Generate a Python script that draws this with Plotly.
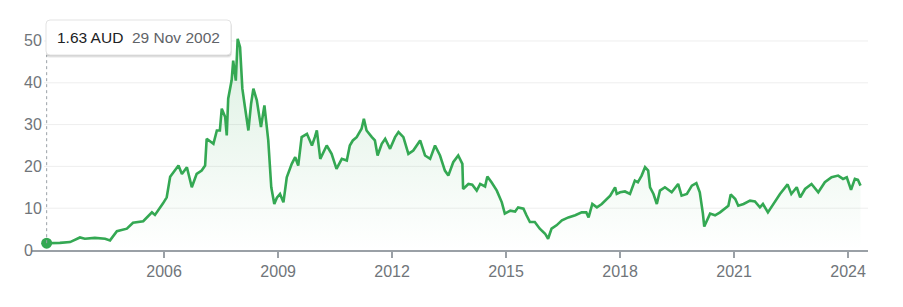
import plotly.graph_objects as go
from datetime import date

# ---- data ----
dates = [
    "2002-11-29", "2003-01-29", "2003-04-05", "2003-07-12", "2003-08-25", "2003-10-15", "2003-12-01",
    "2004-03-06", "2004-06-13", "2004-07-30", "2004-10-04", "2005-01-08", "2005-03-08",
    "2005-06-14", "2005-09-06", "2005-10-05", "2005-12-20", "2006-01-26", "2006-02-28",
    "2006-05-19", "2006-06-21", "2006-08-08", "2006-09-24", "2006-11-10", "2006-12-28",
    "2007-01-30", "2007-02-14", "2007-04-20", "2007-05-23", "2007-06-21", "2007-07-09",
    "2007-08-11", "2007-08-26", "2007-09-09", "2007-10-12", "2007-10-27", "2007-11-21",
    "2007-12-09", "2008-01-01", "2008-01-23", "2008-02-17", "2008-03-21", "2008-04-16",
    "2008-05-08", "2008-06-10", "2008-07-20", "2008-08-22", "2008-09-13", "2008-09-28",
    "2008-10-27", "2008-11-25", "2008-12-20", "2009-01-19", "2009-02-21", "2009-03-25",
    "2009-05-12", "2009-06-14", "2009-07-13", "2009-08-15", "2009-10-05", "2009-11-22",
    "2009-12-20", "2010-01-08", "2010-02-10", "2010-04-13", "2010-05-30", "2010-07-16",
    "2010-09-05", "2010-10-23", "2010-11-21", "2010-12-20", "2011-01-26", "2011-03-14", "2011-04-05",
    "2011-05-01", "2011-06-21", "2011-07-20", "2011-08-15", "2011-09-24", "2011-10-27",
    "2011-12-13", "2012-01-30", "2012-03-03", "2012-04-19", "2012-06-06", "2012-07-23",
    "2012-09-27", "2012-11-13", "2013-01-01", "2013-02-17", "2013-04-06", "2013-05-23",
    "2013-06-25", "2013-08-11", "2013-09-28", "2013-11-07", "2013-11-14", "2014-01-04",
    "2014-02-10", "2014-03-25", "2014-04-27", "2014-06-13", "2014-07-05", "2014-08-14",
    "2014-10-04", "2014-11-21", "2014-12-20", "2015-02-10", "2015-03-29", "2015-04-27",
    "2015-06-17", "2015-07-16", "2015-08-18", "2015-10-04", "2015-11-21", "2016-01-11",
    "2016-02-09", "2016-03-13", "2016-04-30", "2016-06-21", "2016-08-22", "2016-10-27",
    "2016-12-28", "2017-02-10", "2017-03-04", "2017-04-09", "2017-05-23", "2017-07-09",
    "2017-08-26", "2017-09-28", "2017-11-14", "2017-11-30", "2018-01-01", "2018-02-17", "2018-04-06", "2018-05-23",
    "2018-06-21", "2018-07-27", "2018-08-29", "2018-09-28", "2018-10-16", "2018-11-18",
    "2018-12-20", "2019-01-19", "2019-03-08", "2019-05-12", "2019-07-13", "2019-08-15",
    "2019-10-05", "2019-11-22", "2020-01-04", "2020-02-06", "2020-03-07", "2020-03-20",
    "2020-05-15", "2020-07-02", "2020-08-19", "2020-10-05", "2020-11-07", "2020-11-29",
    "2021-01-12", "2021-02-10", "2021-04-02", "2021-06-03", "2021-07-20", "2021-09-06",
    "2021-10-05", "2021-11-22", "2022-01-12", "2022-03-18", "2022-05-30", "2022-07-05",
    "2022-08-26", "2022-09-28", "2022-11-14", "2023-01-15", "2023-03-21", "2023-05-23",
    "2023-07-27", "2023-09-28", "2023-11-14", "2023-12-20", "2024-01-30", "2024-03-07",
    "2024-04-05", "2024-04-30",
]
prices = [
    1.63, 1.6, 1.7, 1.9, 2.4, 3.0, 2.7,
    2.9, 2.7, 2.3, 4.5, 5.1, 6.5,
    6.9, 9.0, 8.4, 11.1, 12.6, 17.5,
    20.2, 18.2, 19.8, 15.0, 18.2, 19.0,
    20.2, 26.6, 25.4, 28.6, 28.6, 33.8,
    31.8, 27.4, 36.2, 40.6, 45.3, 40.5,
    50.5, 48.5, 38.6, 34.2, 28.6, 35.0,
    38.6, 35.8, 29.4, 34.6, 29.4, 26.2,
    15.0, 11.0, 12.5, 13.4, 11.4, 17.4,
    20.6, 22.2, 20.2, 27.0, 27.8, 25.0,
    27.0, 28.6, 21.8, 25.0, 23.0, 19.4,
    21.8, 21.4, 25.0, 26.2, 27.0, 29.0, 31.4,
    28.6, 27.0, 26.2, 22.6, 25.4, 26.6,
    24.2, 27.0, 28.2, 27.0, 23.0, 23.8,
    26.2, 22.6, 21.8, 25.0, 22.6, 19.0,
    17.8, 21.0, 22.6, 20.6, 14.6, 15.8,
    15.6, 14.2, 15.8, 15.2, 17.6, 16.2,
    14.2, 11.4, 8.7, 9.4, 9.2, 10.2,
    9.9, 8.3, 6.7, 6.7, 5.1, 3.9,
    2.7, 5.1, 5.9, 7.1, 7.8, 8.3,
    9.0, 9.0, 7.8, 11.0, 10.2, 11.0,
    12.2, 13.0, 15.0, 13.4, 13.8, 14.0, 13.4, 16.6,
    16.2, 17.8, 19.8, 19.0, 15.0, 13.4,
    11.0, 14.2, 15.0, 13.8, 15.8, 13.0,
    13.4, 15.4, 16.0, 13.8, 8.7, 5.6,
    8.7, 8.3, 9.0, 9.9, 10.6, 13.3,
    12.2, 10.6, 11.0, 11.8, 11.6, 10.2,
    11.0, 9.0, 11.0, 13.4, 15.7, 13.4,
    15.0, 12.6, 14.6, 15.8, 13.8, 16.2,
    17.4, 17.8, 17.0, 17.4, 14.4, 17.0,
    16.8, 15.4,
]
currency = "AUD"
x_tick_years = [2006, 2009, 2012, 2015, 2018, 2021, 2024]
y_ticks = [0, 10, 20, 30, 40, 50]

# ---- geometry helpers (pixel layout of the 903x307 canvas) ----
W, H = 903, 307
ML, MR, MT, MB = 32, 35, 21, 57
PW, PH = W - ML - MR, H - MT - MB
YMAX = 54.78


def px_x(p):
    return (p - ML) / PW


def px_y(p):
    return (H - MB - p) / PH


GREEN = "#34a853"
AXIS = "#9aa0a6"
LABEL = "#70757a"
FONT = "Liberation Sans, Arial, sans-serif"

fig = go.Figure()

fig.add_trace(go.Scatter(
    x=dates, y=prices, mode="lines",
    line=dict(color=GREEN, width=2.6),
    fill="tozeroy",
    fillgradient=dict(
        type="vertical", start=0, stop=50,
        colorscale=[[0, "rgba(52,168,83,0)"], [1, "rgba(52,168,83,0.17)"]],
    ),
    hoverinfo="skip", showlegend=False,
))

# highlighted first point
fig.add_trace(go.Scatter(
    x=[dates[0]], y=[prices[0]], mode="markers",
    marker=dict(color=GREEN, size=11, line=dict(width=0)),
    hoverinfo="skip", showlegend=False,
))

shapes = []
# horizontal gridlines
for v in y_ticks[1:]:
    shapes.append(dict(type="line", xref="paper", yref="y",
                       x0=px_x(44), x1=1, y0=v, y1=v,
                       line=dict(color="#eeeeee", width=1), layer="below"))

# dotted guide from point up to tooltip
shapes.append(dict(type="line", xref="x", yref="paper",
                   x0=dates[0], x1=dates[0],
                   y0=prices[0] / YMAX, y1=px_y(55),
                   line=dict(color=AXIS, width=1, dash="dot")))


def rounded_rect(x0, y0, x1, y1, r):
    # pixel coords -> paper path with rounded corners
    rx, ry = r / PW, r / PH
    X0, X1 = px_x(x0), px_x(x1)
    Y0, Y1 = px_y(y1), px_y(y0)
    return (f"M {X0+rx},{Y1} L {X1-rx},{Y1} Q {X1},{Y1} {X1},{Y1-ry} "
            f"L {X1},{Y0+ry} Q {X1},{Y0} {X1-rx},{Y0} L {X0+rx},{Y0} "
            f"Q {X0},{Y0} {X0},{Y0+ry} L {X0},{Y1-ry} Q {X0},{Y1} {X0+rx},{Y1} Z")


# tooltip shadow + box
for off, a in [(3, 0.05), (2, 0.08), (1, 0.10)]:
    shapes.append(dict(type="path", xref="paper", yref="paper",
                       path=rounded_rect(46, 20 + off, 231 + off * 0.3, 55 + off, 4),
                       fillcolor=f"rgba(0,0,0,{a})", line=dict(width=0)))
shapes.append(dict(type="path", xref="paper", yref="paper",
                   path=rounded_rect(46, 20, 231, 55, 4),
                   fillcolor="white", line=dict(color="#e3e3e3", width=1)))

annotations = []
for v in y_ticks:
    annotations.append(dict(xref="paper", yref="y", x=px_x(22), y=v,
                            xanchor="left", yanchor="middle", showarrow=False,
                            text=str(v), font=dict(family=FONT, size=16, color=LABEL)))

d0 = date.fromisoformat(dates[0])
annotations.append(dict(xref="paper", yref="paper", x=px_x(55), y=px_y(37.5),
                        xanchor="left", yanchor="middle", showarrow=False,
                        text=f"{prices[0]:.2f} {currency}",
                        font=dict(family=FONT, size=15.5, color="#202124")))
annotations.append(dict(xref="paper", yref="paper", x=px_x(130), y=px_y(37.5),
                        xanchor="left", yanchor="middle", showarrow=False,
                        text=f"{d0.day} {d0.strftime('%b')} {d0.year}",
                        font=dict(family=FONT, size=15.5, color="#5f6368")))

fig.update_layout(
    width=W, height=H,
    margin=dict(l=ML, r=MR, t=MT, b=MB, pad=0),
    paper_bgcolor="white", plot_bgcolor="white",
    shapes=shapes, annotations=annotations,
    xaxis=dict(
        type="date", range=["2002-07-11", "2024-07-11"],
        showgrid=False, zeroline=False,
        showline=True, linecolor=AXIS, linewidth=2,
        ticks="outside", ticklen=6, tickwidth=2, tickcolor=AXIS,
        tickvals=[f"{y}-01-01" for y in x_tick_years],
        ticktext=[str(y) for y in x_tick_years],
        tickfont=dict(family=FONT, size=16, color=LABEL),
        fixedrange=True,
    ),
    yaxis=dict(
        range=[0, YMAX], showgrid=False, zeroline=False,
        showticklabels=False, showline=False, fixedrange=True,
    ),
)

fig.write_html("out.html")
